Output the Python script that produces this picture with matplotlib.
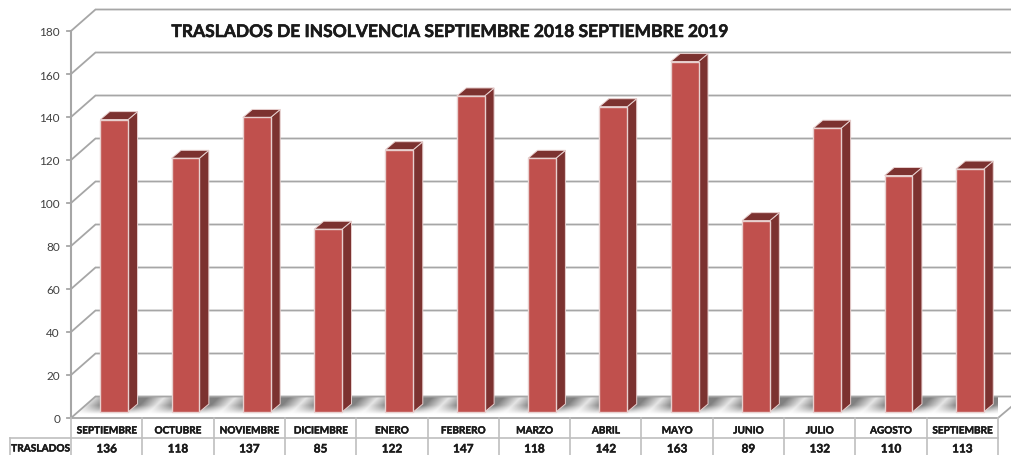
import numpy as np
import matplotlib
matplotlib.use("Agg")
import matplotlib.pyplot as plt
import matplotlib.transforms as mtrans
import matplotlib.patheffects as pe
from matplotlib.patches import Polygon

months = ["SEPTIEMBRE", "OCTUBRE", "NOVIEMBRE", "DICIEMBRE", "ENERO", "FEBRERO", "MARZO",
          "ABRIL", "MAYO", "JUNIO", "JULIO", "AGOSTO", "SEPTIEMBRE"]
traslados = [136, 118, 137, 85, 122, 147, 118, 142, 163, 89, 132, 110, 113]
yTicks = [0, 20, 40, 60, 80, 100, 120, 140, 160, 180]
rowName = "TRASLADOS"
title = "TRASLADOS DE INSOLVENCIA SEPTIEMBRE 2018 SEPTIEMBRE 2019"

W, H = 1011, 456
plt.rcParams["font.family"] = ["Lato", "DejaVu Sans"]

# front plane of the 3d box, in pixels
x0, x1 = 71.0, 998.0
yBot, yTop = 419.0, 32.0
depthX, depthY = 24.5, 21.5    # back wall offset
barFrontX, barFrontY = 7.5, 6.0
barDepthX, barDepthY = 9.5, 8.0
barW = 0.39

gridCol = "#a6a6a6"
faceCol = "#c0504d"
sideCol = "#7c3230"
edgeCol = "#e8d0cf"
txtCol = "#1a1a1a"

fig = plt.figure(figsize=(W / 100, H / 100), dpi=100)
ax = fig.add_axes([x0 / W, 1 - yBot / H, (x1 - x0) / W, (yBot - yTop) / H])
ax.axis("off")

def shifted(dx, dy):
  return ax.transData + mtrans.Affine2D().translate(dx, dy)

def Px2Data(dx, dy):
  return dx * (len(months)) / (x1 - x0), dy * 180 / (yBot - yTop)

def Heavy(w):
  return [pe.withStroke(linewidth=w, foreground=txtCol)]

ddx, ddy = Px2Data(depthX, depthY)
n = len(months)
xL, xR = -0.5, n - 0.5
xEdge = xR + Px2Data(13, 0)[0]

# floor with gradient shadows, one per category
floor = Polygon([(xL, 0), (xL + ddx, ddy), (xEdge, ddy), (xEdge, Px2Data(0, 11)[1]), (xR, 0)],
                closed=True, transform=ax.transData, fc="none", ec="none", clip_on=False)
ax.add_patch(floor)
gx = np.linspace(0, n + 0.2, 1400)
gy = np.linspace(0, 1, 40)
XX, YY = np.meshgrid(gx, gy)
phase = np.mod(XX - 0.17 - (YY - 0.5) * 0.3 + 0.5, 1) - 0.5
streak = np.clip(np.abs(phase) / 0.24, 0, 1)
depth = np.clip((YY - 0.18) / 0.4, 0, 1)
shade = 1 - depth * (0.1 + 0.4 * streak)
im = ax.imshow(shade, cmap="gray", vmin=0, vmax=1, origin="lower", aspect="auto", interpolation="bilinear",
               extent=(xL, xL + n + 0.2, 0, ddy), zorder=1)
im.set_clip_path(floor)
ax.set_xlim(-0.5, n - 0.5)
ax.set_ylim(0, 180)

# gridlines
for v in yTicks:
  ax.plot([xL, xL + ddx, xEdge + 1], [v, v + ddy, v + ddy], color=gridCol, lw=1.3, clip_on=False,
          zorder=1.5, solid_joinstyle="miter")
  ax.plot([xL - Px2Data(4, 0)[0], xL], [v, v], color=gridCol, lw=1.3, clip_on=False, zorder=1.5)
  ax.text(xL - Px2Data(11, 0)[0], v - Px2Data(0, 1)[1], str(v), ha="right", va="center", fontsize=8.5, color="#404040")
ax.plot([xL, xL], [0, 180], color=gridCol, lw=1.5, clip_on=False, zorder=1.6)
ax.plot([xL, xR, xR + Px2Data(13, 0)[0]], [0, 0, Px2Data(0, 11)[1]], color=gridCol, lw=1.3, clip_on=False, zorder=1.6)

# bars
tf = shifted(barFrontX, barFrontY)
bdx, bdy = Px2Data(barDepthX, barDepthY)
for i, v in enumerate(traslados):
  l, r = i - barW / 2, i + barW / 2
  ax.add_patch(Polygon([(r, 0), (r + bdx, bdy), (r + bdx, v + bdy), (r, v)], transform=tf, fc=sideCol, ec=edgeCol, lw=0.7, zorder=3, clip_on=False))
  ax.add_patch(Polygon([(l, v), (l + bdx, v + bdy), (r + bdx, v + bdy), (r, v)], transform=tf, fc=sideCol, ec=edgeCol, lw=0.7, zorder=3, clip_on=False))
  ax.add_patch(Polygon([(l, 0), (r, 0), (r, v), (l, v)], transform=tf, fc=faceCol, ec=edgeCol, lw=1.0, zorder=4, clip_on=False))

# data table under the axis
rowH = 180 / (yBot - yTop) * 20
tCol = "#bfbfbf"
rowTop = 0
monthY = rowTop - Px2Data(0, 13)[1]
valueY = rowTop - Px2Data(0, 31)[1]
for r in range(1, 3):
  ax.plot([xL, xR], [rowTop - rowH * r] * 2, color=tCol, lw=1.2, clip_on=False)
for i in range(n + 1):
  ax.plot([xL + i, xL + i], [rowTop, rowTop - rowH * 2], color=tCol, lw=1.2, clip_on=False)
for i, (m, v) in enumerate(zip(months, traslados)):
  ax.text(i, monthY, m, ha="center", va="center", fontsize=7.2, fontweight="bold", color=txtCol, path_effects=Heavy(0.3), clip_on=False)
  ax.text(i, valueY, str(v), ha="center", va="center", fontsize=8.5, fontweight="bold", color=txtCol, path_effects=Heavy(0.3), clip_on=False)
cellL = xL - Px2Data(61, 0)[0]
ax.plot([cellL, xL], [rowTop - rowH] * 2, color=tCol, lw=1.2, clip_on=False)
ax.plot([cellL, cellL], [rowTop - rowH, rowTop - rowH * 2], color=tCol, lw=1.2, clip_on=False)
ax.text((cellL + xL) / 2, valueY, rowName, ha="center", va="center", fontsize=7.3, fontweight="bold", color=txtCol, path_effects=Heavy(0.3), clip_on=False)

fig.text(448.5 / W, 1 - 33 / H, title, ha="center", va="center", fontsize=12.55, fontweight="bold", color=txtCol, path_effects=Heavy(0.4))
fig.savefig("out.png", dpi=100)
